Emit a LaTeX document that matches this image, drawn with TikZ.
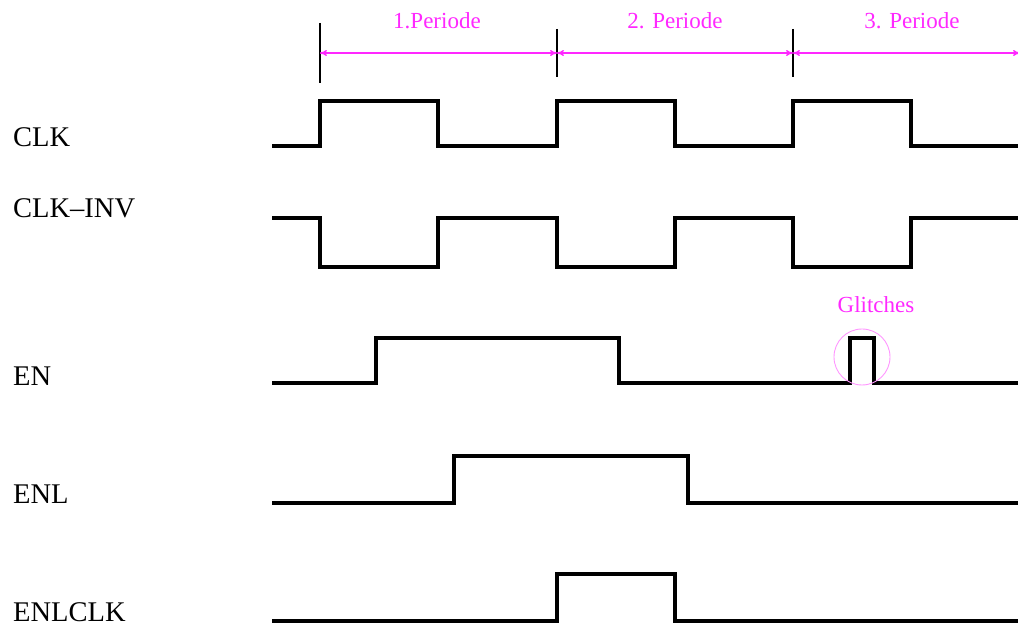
\documentclass[tikz,border=0pt]{standalone}
\usepackage{fontspec}
\setmainfont{Liberation Serif}
\usetikzlibrary{arrows.meta}
\definecolor{mag}{RGB}{255,40,255}
\definecolor{magc}{RGB}{255,150,255}
\begin{document}
\begin{tikzpicture}[x=1pt,y=-1pt,
  sig/.style={line width=3.2pt, line join=miter, black},
  tick/.style={line width=1.8pt, black},
  per/.style={mag, line width=1.5pt, {To[length=7pt,width=6pt]}-{To[length=7pt,width=6pt]}},
  lbl/.style={anchor=base west, inner sep=0pt, font=\fontsize{28.5}{28.5}\selectfont},
  mlbl/.style={anchor=base, inner sep=0pt, text=mag, font=\fontsize{23}{23}\selectfont}]
\useasboundingbox (0,0) rectangle (1018,628);
% labels
\node[lbl] (lclk) at (13,147) {CLK};
\node[lbl] (linv) at (13,218) {CLK--INV};
\node[lbl] (len) at (13,385) {EN};
\node[lbl] (lenl) at (13,503) {ENL};
\node[lbl] (lenlclk) at (13,621) {ENLCLK};
% period markers
\coordinate (t1) at (320,53);
\coordinate (t2) at (557,53);
\coordinate (t3) at (793,53);
\coordinate (t4) at (1020,53);
\draw[tick] (320,23) -- (320,83);
\draw[tick] (557,29) -- (557,77);
\draw[tick] (793,29) -- (793,77);
\draw[per] (t1) -- (t2);
\draw[per] (t2) -- (t3);
\draw[per] (t3) -- (t4);
\node[mlbl] (p1) at (437,29) {1.Periode};
\node[mlbl] (p2) at (675,29) {2. Periode};
\node[mlbl] (p3) at (912,29) {3. Periode};
% CLK
\draw[sig] (272,146) -- (320,146) -- (320,101) -- (438,101) -- (438,146) -- (557,146) -- (557,101) -- (675,101) -- (675,146) -- (793,146) -- (793,101) -- (911,101) -- (911,146) -- (1020,146);
% CLK-INV
\draw[sig] (272,218) -- (320,218) -- (320,267) -- (438,267) -- (438,218) -- (557,218) -- (557,267) -- (675,267) -- (675,218) -- (793,218) -- (793,267) -- (911,267) -- (911,218) -- (1020,218);
% EN
\draw[sig] (272,383) -- (376,383) -- (376,338) -- (619,338) -- (619,383) -- (850,383) -- (850,338) -- (874,338) -- (874,383) -- (1020,383);
% glitch circle
\draw[magc, line width=0.9pt] (862,357) circle (28);
\node[mlbl] (gl) at (876,313) {Glitches};
% ENL
\draw[sig] (272,503) -- (454,503) -- (454,456) -- (688,456) -- (688,503) -- (1020,503);
% ENLCLK
\draw[sig] (272,621) -- (557,621) -- (557,574) -- (675,574) -- (675,621) -- (1020,621);
\end{tikzpicture}
\end{document}
